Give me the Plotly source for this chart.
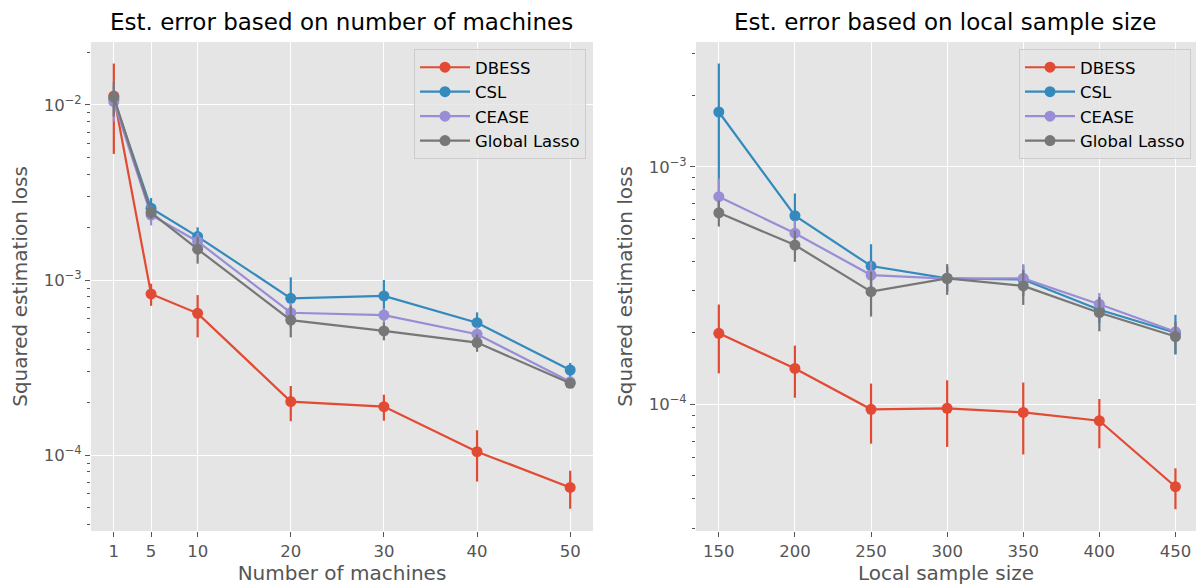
import plotly.graph_objects as go
import numpy as np

# ---------------- data ----------------
series = ["DBESS", "CSL", "CEASE", "Global Lasso"]
colors = ["#E24A33", "#348ABD", "#988ED5", "#777777"]

machines = [1, 5, 10, 20, 30, 40, 50]
m_dbess = [0.01125, 0.000832, 0.000645, 0.000202, 0.000189, 0.0001045, 0.0000653]
m_dbess_err = [0.006, 0.00012, 0.000175, 0.000046, 0.000032, 0.000034, 0.000016]
m_csl = [0.0108, 0.00257, 0.00177, 0.000786, 0.000811, 0.00057, 0.000306]
m_csl_err = [0.0012, 0.00037, 0.00023, 0.00025, 0.00019, 0.000083, 0.00003]
m_cease = [0.01045, 0.00235, 0.00166, 0.00065, 0.00063, 0.00049, 0.000262]
m_cease_err = [0.0024, 0.0003, 0.0002, 0.00009, 0.00006, 0.00005, 0.00001]
m_glasso = [0.0111, 0.00243, 0.0015, 0.00059, 0.000512, 0.000439, 0.000257]
m_glasso_err = [0.0025, 0.0002, 0.00026, 0.00012, 0.00006, 0.00005, 0.00001]

sizes = [150, 200, 250, 300, 350, 400, 450]
s_dbess = [0.000199, 0.0001416, 0.0000953, 0.0000962, 0.0000925, 0.0000853, 0.000045]
s_dbess_err = [0.000064, 0.000035, 0.000027, 0.00003, 0.000031, 0.00002, 0.0000088]
s_csl = [0.0017, 0.000622, 0.000382, 0.000339, 0.000335, 0.00025, 0.0002]
s_csl_err = [0.00102, 0.00015, 0.00009, 0.00004, 0.00005, 0.00003, 0.000038]
s_cease = [0.000748, 0.000525, 0.00035, 0.000338, 0.000339, 0.000264, 0.000202]
s_cease_err = [0.000145, 0.00007, 0.00005, 0.00004, 0.00005, 0.00003, 0.00002]
s_glasso = [0.00064, 0.000468, 0.000298, 0.000339, 0.000315, 0.000243, 0.000193]
s_glasso_err = [0.00008, 0.00007, 0.000064, 0.00005, 0.000053, 0.00004, 0.00003]

machine_ticks = [1, 5, 10, 20, 30, 40, 50]
size_ticks = [150, 200, 250, 300, 350, 400, 450]
left_yticks = [1e-4, 1e-3, 1e-2]
left_yticktext = ["10<sup>\u22124</sup>", "10<sup>\u22123</sup>", "10<sup>\u22122</sup>"]
right_yticks = [1e-4, 1e-3]
right_yticktext = ["10<sup>\u22124</sup>", "10<sup>\u22123</sup>"]

left_vals = [m_dbess, m_csl, m_cease, m_glasso]
left_errs = [m_dbess_err, m_csl_err, m_cease_err, m_glasso_err]
right_vals = [s_dbess, s_csl, s_cease, s_glasso]
right_errs = [s_dbess_err, s_csl_err, s_cease_err, s_glasso_err]

# ---------------- figure ----------------
W, H = 1196, 586
FONT = "DejaVu Sans"
TICKC = "#555555"

fig = go.Figure()

for name, col, v, e in zip(series, colors, left_vals, left_errs):
    fig.add_trace(go.Scatter(
        x=machines, y=v, name=name, mode="lines+markers",
        line=dict(color=col, width=2.2), marker=dict(color=col, size=11),
        error_y=dict(type="data", array=e, visible=True, color=col, thickness=2.2, width=0),
        xaxis="x", yaxis="y", legend="legend"))

for name, col, v, e in zip(series, colors, right_vals, right_errs):
    fig.add_trace(go.Scatter(
        x=sizes, y=v, name=name, mode="lines+markers",
        line=dict(color=col, width=2.2), marker=dict(color=col, size=11),
        error_y=dict(type="data", array=e, visible=True, color=col, thickness=2.2, width=0),
        xaxis="x2", yaxis="y2", legend="legend2"))


def px_x(p):
    return p / W


def px_y(p):
    return 1 - p / H


def minor_vals(lo, hi):
    out = []
    for d in range(lo, hi):
        for k in range(2, 10):
            out.append(k * 10.0 ** d)
    return out


tickfont = dict(family=FONT, size=16.5, color=TICKC)
labelfont = dict(family=FONT, size=20, color=TICKC)

common_x = dict(showgrid=True, gridcolor="white", gridwidth=1.2, zeroline=False,
                showline=False, ticks="outside", ticklen=5, tickcolor=TICKC,
                tickfont=tickfont, tickmode="array")
common_y = dict(type="log", showgrid=True, gridcolor="white", gridwidth=1.2, zeroline=False,
                showline=False, ticks="outside", ticklen=5, tickcolor=TICKC,
                tickfont=tickfont, tickmode="array",
                minor=dict(ticks="outside", ticklen=3, tickcolor=TICKC, showgrid=False,
                           tickmode="array", tickvals=minor_vals(-6, 0)))

legend_common = dict(xanchor="right", y=px_y(49), yanchor="top",
                     bgcolor="rgba(229,229,229,0.8)", bordercolor="#CCCCCC", borderwidth=1,
                     font=dict(family=FONT, size=16.5, color="black"), tracegroupgap=0,
                     itemwidth=50)

fig.update_layout(
    width=W, height=H,
    margin=dict(l=0, r=0, t=0, b=0),
    paper_bgcolor="white", plot_bgcolor="#E5E5E5",
    font=dict(family=FONT, color=TICKC),
    xaxis=dict(common_x, domain=[px_x(91), px_x(593)], range=[-1.45, 52.45],
               tickvals=machine_ticks, anchor="y",
               title=dict(text="Number of machines", font=labelfont, standoff=6)),
    yaxis=dict(common_y, domain=[px_y(531), px_y(42)], range=[np.log10(3.68e-5), np.log10(0.0229)],
               anchor="x", tickvals=left_yticks, ticktext=left_yticktext,
               title=dict(text="Squared estimation loss", font=labelfont, standoff=10)),
    xaxis2=dict(common_x, domain=[px_x(696), 1.0], range=[135, 463.5],
                tickvals=size_ticks, anchor="y2",
                title=dict(text="Local sample size", font=labelfont, standoff=6)),
    yaxis2=dict(common_y, domain=[px_y(531), px_y(42)], range=[np.log10(2.93e-5), np.log10(0.00335)],
                anchor="x2", tickvals=right_yticks, ticktext=right_yticktext,
                title=dict(text="Squared estimation loss", font=labelfont, standoff=10)),
    legend=dict(legend_common, x=px_x(586)),
    legend2=dict(legend_common, x=px_x(1191)),
    showlegend=True,
    annotations=[
        dict(text="Est. error based on number of machines", x=px_x(342), y=px_y(22),
             xref="paper", yref="paper", showarrow=False, xanchor="center", yanchor="middle",
             font=dict(family=FONT, size=23, color="black")),
        dict(text="Est. error based on local sample size", x=px_x(945), y=px_y(22),
             xref="paper", yref="paper", showarrow=False, xanchor="center", yanchor="middle",
             font=dict(family=FONT, size=23, color="black")),
    ],
)

fig.write_html("out.html")
